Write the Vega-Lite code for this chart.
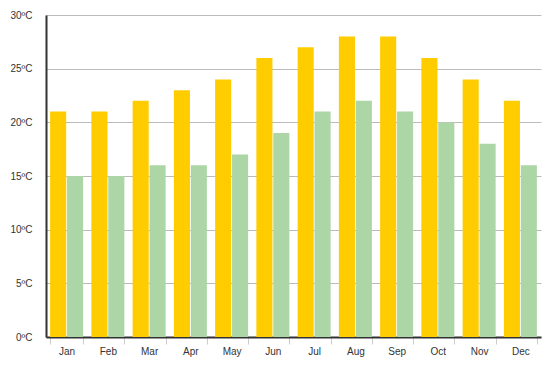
{
  "$schema": "https://vega.github.io/schema/vega-lite/v6.json",
  "width": 495,
  "height": 322,
  "autosize": {"type": "none"},
  "padding": {"left": 46, "top": 15, "right": 14, "bottom": 34},
  "background": "white",
  "config": {"view": {"stroke": null}, "font": "Liberation Sans"},
  "data": {"values": [
    {"month": "Jan", "series": "High", "temp": 21},
    {"month": "Jan", "series": "Low", "temp": 15},
    {"month": "Feb", "series": "High", "temp": 21},
    {"month": "Feb", "series": "Low", "temp": 15},
    {"month": "Mar", "series": "High", "temp": 22},
    {"month": "Mar", "series": "Low", "temp": 16},
    {"month": "Apr", "series": "High", "temp": 23},
    {"month": "Apr", "series": "Low", "temp": 16},
    {"month": "May", "series": "High", "temp": 24},
    {"month": "May", "series": "Low", "temp": 17},
    {"month": "Jun", "series": "High", "temp": 26},
    {"month": "Jun", "series": "Low", "temp": 19},
    {"month": "Jul", "series": "High", "temp": 27},
    {"month": "Jul", "series": "Low", "temp": 21},
    {"month": "Aug", "series": "High", "temp": 28},
    {"month": "Aug", "series": "Low", "temp": 22},
    {"month": "Sep", "series": "High", "temp": 28},
    {"month": "Sep", "series": "Low", "temp": 21},
    {"month": "Oct", "series": "High", "temp": 26},
    {"month": "Oct", "series": "Low", "temp": 20},
    {"month": "Nov", "series": "High", "temp": 24},
    {"month": "Nov", "series": "Low", "temp": 18},
    {"month": "Dec", "series": "High", "temp": 22},
    {"month": "Dec", "series": "Low", "temp": 16}
  ]},
  "mark": {"type": "bar"},
  "encoding": {
    "x": {
      "field": "month", "type": "nominal", "sort": null,
      "scale": {"paddingInner": 0.2, "paddingOuter": 0.1},
      "axis": {
        "title": null, "labelAngle": 0, "labelFontSize": 10, "labelColor": "#333",
        "labelPadding": 2,
        "domainColor": "#333", "domainWidth": 2,
        "tickBand": "extent", "tickColor": "#ccc", "tickSize": 7, "tickWidth": 1,
        "grid": false
      }
    },
    "xOffset": {"field": "series", "type": "nominal", "scale": {"paddingInner": 0.05}},
    "y": {
      "field": "temp", "type": "quantitative",
      "scale": {"domain": [0, 30], "nice": false},
      "axis": {
        "title": null, "values": [0, 5, 10, 15, 20, 25, 30],
        "labelExpr": "datum.value + 'ºC'",
        "labelFontSize": 10, "labelColor": "#333", "labelPadding": 14,
        "ticks": false, "domainColor": "#333", "domainWidth": 2,
        "grid": true, "gridColor": "#bbb", "gridWidth": 1
      }
    },
    "color": {
      "field": "series", "type": "nominal",
      "scale": {"domain": ["High", "Low"], "range": ["#FFCC00", "#ADD6A6"]},
      "legend": null
    }
  }
}
